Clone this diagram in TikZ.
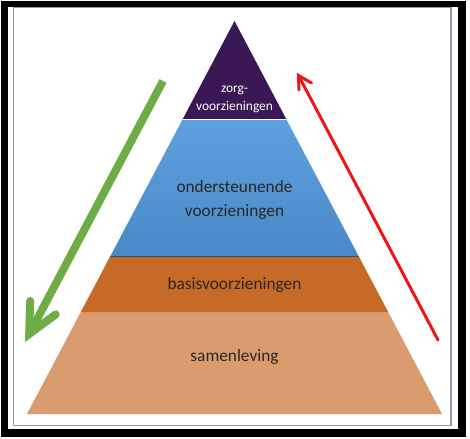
\documentclass[tikz,border=0pt]{standalone}
\usepackage{fontspec}
\setmainfont{Carlito}
\definecolor{framegray}{HTML}{9A93AD}
\definecolor{zorgc}{HTML}{3A1856}
\definecolor{bluetop}{HTML}{5EA0DD}
\definecolor{bluebot}{HTML}{4A89C9}
\definecolor{basisc}{HTML}{C86A27}
\definecolor{samenc}{HTML}{DA9C6E}
\definecolor{txtdark}{HTML}{2A2622}
\definecolor{arrgreen}{HTML}{6EAD45}
\definecolor{arrred}{HTML}{F01414}
\begin{document}
\begin{tikzpicture}[x=1pt,y=-1pt,
  lbl/.style={font=\fontsize{17.3}{20}\selectfont, text=txtdark, anchor=base, inner sep=0pt},
  toplbl/.style={font=\fontsize{13.4}{16}\selectfont, text=white, anchor=base, inner sep=0pt},
  greenarrow/.style={draw=arrgreen, line width=8pt},
  redarrow/.style={draw=arrred, line width=3pt}]
\useasboundingbox (0,0) rectangle (470,438);
\fill[white] (0,0) rectangle (470,438);
% frame
\fill[black] (1,1) rectangle (466,437);
\fill[white] (8,7) rectangle (458,429);
\draw[framegray, line width=1.5pt] (13.5,7.5) rectangle (451,425.5);
% pyramid layers
\fill[samenc] (80.8,312) -- (388.2,312) -- (442,414) -- (27,414) -- cycle;
\fill[basisc] (110.4,256) -- (358.6,256) -- (388.2,312) -- (80.8,312) -- cycle;
\shade[top color=bluetop, bottom color=bluebot] (182.8,119) -- (286.2,119) -- (358.6,256) -- (110.4,256) -- cycle;
\fill[zorgc] (234.5,21) -- (286.2,119) -- (182.8,119) -- cycle;
\draw[white, line width=0.8pt] (182.8,119) -- (286.2,119);
\draw[bluebot!60!black, line width=0.8pt] (110.4,256) -- (358.6,256);
% labels
\node[toplbl] (z1) at (234.5,93) {zorg-};
\node[toplbl] (z2) at (234.5,110.5) {voorzieningen};
\node[lbl] (o1) at (234.5,193) {ondersteunende};
\node[lbl] (o2) at (234.5,216.5) {voorzieningen};
\node[lbl] (b1) at (234.5,289) {basisvoorzieningen};
\node[lbl] (s1) at (234.5,361) {samenleving};
% green arrow
\coordinate (gs) at (163,81);
\coordinate (gt) at (29.2,334);
\coordinate (ga1) at (30.1,301);
\coordinate (ga2) at (55.7,314.4);
\draw[greenarrow, line cap=butt] (gs) -- (gt);
\draw[greenarrow, line cap=round, line join=miter] (ga1) -- (gt) -- (ga2);
% red arrow
\coordinate (rs) at (438,340);
\coordinate (rt) at (298.5,75.5);
\coordinate (ra1) at (299,90);
\coordinate (ra2) at (311.5,83);
\draw[redarrow, line cap=round] (rs) -- (rt);
\draw[redarrow, line cap=round, line join=miter] (ra1) -- (rt) -- (ra2);
\end{tikzpicture}
\end{document}
